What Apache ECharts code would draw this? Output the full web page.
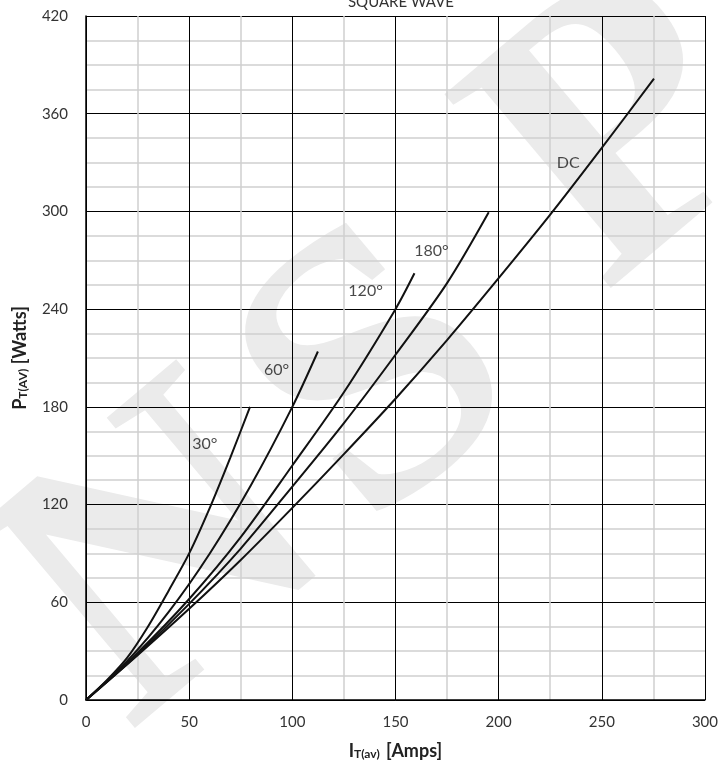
<!DOCTYPE html>
<html><head><meta charset="utf-8">
<script src="https://cdn.jsdelivr.net/npm/echarts@6/dist/echarts.min.js"></script>
<style>html,body{margin:0;padding:0;background:#fff}#c{width:721px;height:765px}</style>
</head><body><div id="c"></div>
<script>
// ---- data ----
const xTicks = [0, 50, 100, 150, 200, 250, 300];
const yTicks = [0, 60, 120, 180, 240, 300, 360, 420];

const dcI   = [0, 25, 50, 75, 100, 125, 150, 175, 200, 225, 250, 275.3];
const dcP   = [0, 27.5, 56, 86, 118, 151, 185, 221, 259, 298, 339, 381.5];
const a180I = [0, 25, 50, 75, 100, 125, 150, 175, 195.2];
const a180P = [0, 28, 59, 93, 131, 170, 212, 256, 299.5];
const a120I = [0, 25, 50, 75, 100, 125, 150, 159.2];
const a120P = [0, 29, 62, 100, 144, 189, 240, 262];
const a60I  = [0, 20, 40, 60, 80, 100, 112.4];
const a60P  = [0, 24, 54, 90, 132, 180, 214];
const a30I  = [0, 10, 20, 30, 40, 50, 60, 70, 79.5];
const a30P  = [0, 12, 26, 45, 67, 90, 118, 149, 180];

const curveNames  = ['DC', '180°', '120°', '60°', '30°'];
const labelI      = [233.7, 167.4, 135.5, 92.4, 57.6];
const labelP      = [330, 275.6, 251, 202.7, 157.4];

const titleText = 'SQUARE WAVE';
const watermarkLetters = ['N', 'S', 'P'];

// ---- build ----
const zip = (a, b) => a.map((v, i) => [v, b[i]]);
const curves = [[dcI, dcP], [a180I, a180P], [a120I, a120P], [a60I, a60P], [a30I, a30P]];
const FONT = 'Lato, "Open Sans", sans-serif';

const chart = echarts.init(document.getElementById('c'), null, {renderer: 'canvas'});

const series = curves.map((c, i) => ({
  name: curveNames[i],
  type: 'line',
  data: zip(c[0], c[1]),
  smooth: 0.3,
  showSymbol: false,
  symbol: 'none',
  lineStyle: {color: '#111', width: 2},
  z: 5,
  silent: true
}));
series.push({
  type: 'scatter',
  symbolSize: 0,
  silent: true,
  data: labelI.map((v, i) => ({value: [v, labelP[i]], name: curveNames[i]})),
  label: {
    show: true, position: 'inside', formatter: p => p.name,
    fontFamily: FONT, fontSize: 16, color: '#1a1a1a'
  },
  z: 6
});

const wmPos = [[172, 565], [385, 385], [630, 140]];

chart.setOption({
  animation: false,
  backgroundColor: '#fff',
  title: {
    text: titleText, left: 396, top: -10, textAlign: 'center',
    textStyle: {fontFamily: FONT, fontSize: 15, fontWeight: 'normal', color: '#333'}
  },
  grid: {left: 86, right: 15, top: 16, bottom: 63, containLabel: false},
  xAxis: {
    type: 'value', min: xTicks[0], max: xTicks[xTicks.length - 1], interval: 50,
    name: '{b|I}{s|T(av)}{b| [Amps]}', nameLocation: 'middle', nameGap: 38,
    nameTextStyle: {
      rich: {
        b: {fontFamily: FONT, fontSize: 18, fontWeight: 'bold', color: '#222', lineHeight: 22, verticalAlign: 'bottom'},
        s: {fontFamily: FONT, fontSize: 12, fontWeight: 'bold', color: '#222', lineHeight: 22, verticalAlign: 'bottom', padding: [0, 2, 0, 0]}
      }
    },
    axisLine: {show: true, lineStyle: {color: '#000', width: 1.5}},
    axisTick: {show: false},
    axisLabel: {fontFamily: FONT, fontSize: 15, color: '#333', margin: 15},
    splitLine: {show: true, lineStyle: {color: '#000', width: 1}},
    minorTick: {show: false, splitNumber: 2},
    minorSplitLine: {show: true, lineStyle: {color: '#d0d0d0', width: 1.5}}
  },
  yAxis: {
    type: 'value', min: yTicks[0], max: yTicks[yTicks.length - 1], interval: 60,
    name: '{b|P}{s|T(AV)}{b| [Watts]}', nameLocation: 'middle', nameGap: 57, nameRotate: 90,
    nameTextStyle: {
      rich: {
        b: {fontFamily: FONT, fontSize: 18, fontWeight: 'bold', color: '#222', lineHeight: 22, verticalAlign: 'bottom'},
        s: {fontFamily: FONT, fontSize: 12, fontWeight: 'bold', color: '#222', lineHeight: 22, verticalAlign: 'bottom'}
      }
    },
    axisLine: {show: true, lineStyle: {color: '#000', width: 1.5}},
    axisTick: {show: false},
    axisLabel: {fontFamily: FONT, fontSize: 15, color: '#333', margin: 18},
    splitLine: {show: true, lineStyle: {color: '#000', width: 1}},
    minorTick: {show: false, splitNumber: 4},
    minorSplitLine: {show: true, lineStyle: {color: '#d0d0d0', width: 1.5}}
  },
  graphic: {
    elements: watermarkLetters.map((ch, i) => ({
      type: 'text', x: wmPos[i][0], y: wmPos[i][1], rotation: 0.70, z: -10, silent: true,
      style: {
        text: ch, fill: '#ebebeb', font: 'bold 390px "Liberation Serif", serif',
        textAlign: 'center', textVerticalAlign: 'middle'
      }
    }))
  },
  series: series
});
</script></body></html>
